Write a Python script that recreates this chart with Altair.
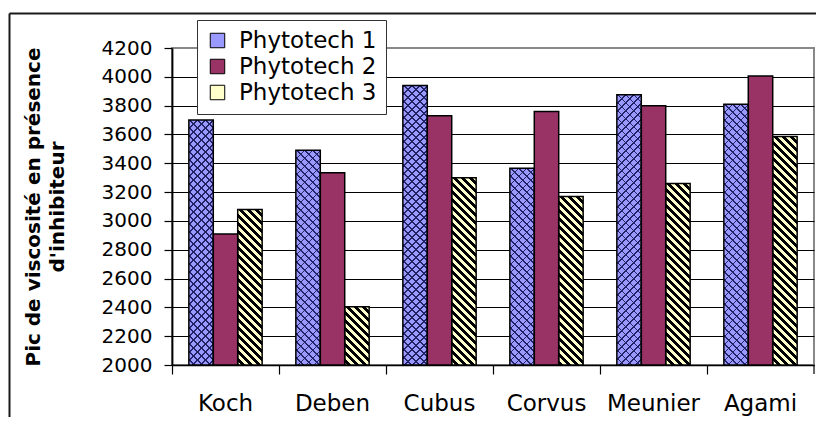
import math
import altair as alt

# ---- data ----
categories = ["Koch", "Deben", "Cubus", "Corvus", "Meunier", "Agami"]
series = ["Phytotech 1", "Phytotech 2", "Phytotech 3"]
phytotech_1 = [3700, 3490, 3940, 3365, 3875, 3810]
phytotech_2 = [2910, 3335, 3730, 3760, 3800, 4005]
phytotech_3 = [3080, 2405, 3300, 3170, 3260, 3585]
y_ticks = [2000, 2200, 2400, 2600, 2800, 3000, 3200, 3400, 3600, 3800, 4000, 4200]
colors = ["#9999FF", "#993366", "#FFFFCC"]
y_title = ["Pic de viscosité en présence", "d'inhibiteur"]

# ---- layout / style ----
PAD_LEFT = 164
PLOT_W = 642
PLOT_H = 317
Y_MIN, Y_MAX = 2000, 4200
PAD_OUTER = 0.69
BAR_W = (PLOT_W / len(categories)) / (len(series) + 2 * PAD_OUTER)
FONT = "DejaVu Sans"
CLEAR = "rgba(0,0,0,0)"


def hatch(value, direction, period, width, on, off):
    """Linear gradient with hard stops that draws 45 degree stripes in a bar."""
    h = (value - Y_MIN) / (Y_MAX - Y_MIN) * PLOT_H
    w = BAR_W
    t = h / w
    K = w * (1 + t * t)
    if direction == "back":  # "\" stripes
        lo, hi = -h, w
        to_p = lambda d: (d + h * t) / K
        geom = {"x1": 0, "y1": round(t, 5), "x2": 1, "y2": 0}
    else:  # "/" stripes
        lo, hi = 0, w + h
        to_p = lambda d: d / K
        geom = {"x1": 0, "y1": 0, "x2": 1, "y2": round(t, 5)}
    clip = lambda p: round(min(1.0, max(0.0, p)), 5)
    stops = []
    k = math.floor(lo / period) - 1
    while k * period < hi + period:
        a = k * period
        b = a + width
        pa, pb = clip(to_p(a)), clip(to_p(b))
        stops += [
            {"offset": pa, "color": off},
            {"offset": pa, "color": on},
            {"offset": pb, "color": on},
            {"offset": pb, "color": off},
        ]
        k += 1
    return {"gradient": "linear", **geom, "stops": stops}


rows = []
for name, vals in zip(series, [phytotech_1, phytotech_2, phytotech_3]):
    for cat, v in zip(categories, vals):
        if name == series[0]:
            ha = hatch(v, "back", 8, 1.8, "#222266", CLEAR)
            hb = hatch(v, "fwd", 8, 1.8, "#222266", CLEAR)
        elif name == series[2]:
            ha = hatch(v, "back", 8, 4.2, "#000000", colors[2])
            hb = CLEAR
        else:
            ha = CLEAR
            hb = CLEAR
        rows.append({"category": cat, "series": name, "value": v,
                     "hatch_a": ha, "hatch_b": hb})

data = alt.Data(values=rows)

x_enc = alt.X(
    "category:N",
    sort=categories,
    scale=alt.Scale(domain=categories, paddingInner=0, paddingOuter=0),
    axis=alt.Axis(
        title=None, bandPosition=0, labelAngle=0, labelFont=FONT,
        labelFontSize=23, labelColor="black", labelPadding=18,
        tickSize=9, tickColor="black", tickWidth=1.2,
        domainColor="black", domainWidth=1.5, grid=False,
    ),
)
xo_enc = alt.XOffset(
    "series:N", sort=series,
    scale=alt.Scale(domain=series, paddingInner=0, paddingOuter=PAD_OUTER),
)
y_enc = alt.Y(
    "value:Q",
    scale=alt.Scale(domain=[Y_MIN, Y_MAX], nice=False, zero=False),
    axis=alt.Axis(
        values=y_ticks, format="d", labelFont=FONT, labelFontSize=20,
        labelColor="black", labelPadding=12, tickSize=8, tickColor="black",
        tickWidth=1.2, domainColor="black", domainWidth=1.8,
        grid=True, gridWidth=1,
        gridColor={"condition": {"test": "datum.value == 4200", "value": "#888888"},
                   "value": "#000000"},
        title=y_title, titleFont=FONT, titleFontSize=20, titleFontWeight="bold",
        titleColor="black", titleLineHeight=24, titlePadding=34,
        labelOverlap=False,
    ),
)
y2_enc = alt.datum(Y_MIN)

base = alt.Chart(data).mark_bar(strokeWidth=0).encode(
    x=x_enc, xOffset=xo_enc, y=y_enc, y2=y2_enc,
    color=alt.Color(
        "series:N",
        scale=alt.Scale(domain=series, range=colors),
        legend=alt.Legend(
            title=None, orient="none", legendX=25, legendY=-28,
            fillColor="white", strokeColor="#333333", padding=9,
            symbolType="square", symbolSize=210, symbolStrokeColor="black",
            symbolStrokeWidth=1, labelFont=FONT, labelFontSize=23,
            labelColor="black", rowPadding=2, labelOffset=10,
        ),
    ),
)

layer_a = alt.Chart(data).mark_bar(strokeWidth=0).encode(
    x=x_enc, xOffset=xo_enc, y=y_enc, y2=y2_enc,
    fill=alt.Fill("hatch_a:N", scale=None),
)
layer_b = alt.Chart(data).mark_bar(strokeWidth=0).encode(
    x=x_enc, xOffset=xo_enc, y=y_enc, y2=y2_enc,
    fill=alt.Fill("hatch_b:N", scale=None),
)
outline = alt.Chart(data).mark_bar(
    fill="transparent", stroke="black", strokeWidth=1.5
).encode(x=x_enc, xOffset=xo_enc, y=y_enc, y2=y2_enc)

one = alt.Data(values=[{"k": 1}])
frame_top = alt.Chart(one).mark_rule(color="#1a1a1a", strokeWidth=2).encode(
    x=alt.value(-162.5), x2=alt.value(660), y=alt.value(-34.5))
frame_left = alt.Chart(one).mark_rule(color="#1a1a1a", strokeWidth=2).encode(
    x=alt.value(-162.5), y=alt.value(-34.5), y2=alt.value(400))
end_tick = alt.Chart(one).mark_rule(color="black", strokeWidth=1.2).encode(
    x=alt.value(PLOT_W), y=alt.value(PLOT_H), y2=alt.value(PLOT_H + 9))

chart = alt.layer(
    base, layer_a, layer_b, outline, frame_top, frame_left, end_tick
).properties(
    width=PLOT_W, height=PLOT_H,
    autosize=alt.AutoSizeParams(type="none"),
    padding={"left": PAD_LEFT, "top": 40, "right": 2, "bottom": 52},
    background="white",
).configure_view(
    stroke="#888888", strokeWidth=2
)

chart.save("out.html", embed_options={"renderer": "svg", "actions": False})
